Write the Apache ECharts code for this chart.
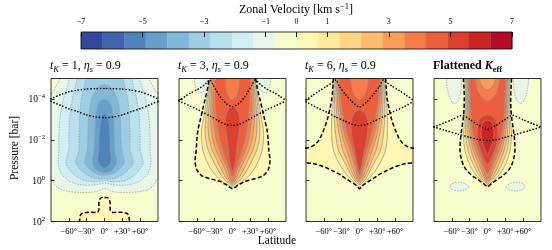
<!DOCTYPE html>
<html><head><meta charset="utf-8">
<script src="https://cdn.jsdelivr.net/npm/echarts@6.0.0/dist/echarts.min.js"></script>
<style>html,body{margin:0;padding:0;background:#fff;}#chart{width:552px;height:250px;}</style>
</head><body><div id="chart"></div>
<script>
// ================= DATA =================
// contour levels of the zonal velocity [km/s]
const levels = [-7,-6.3,-5.6,-4.9,-4.2,-3.5,-2.8,-2.1,-1.4,-0.7,0,0.7,1.4,2.1,2.8,3.5,4.2,4.9,5.6,6.3,7];
const colorbarTicks = [-7,-5,-3,-1,0,1,3,5,7];
const latitudeTicks = [-60,-30,0,30,60];
const log10PressureTicks = [-4,-2,0,2];
const latitudeRange = [-90,90];
const log10PressureRange = [-5,2];
const panelTitles = [
  '{i|t}{si|K}{n| = 1, }{i|η}{si|s}{n| = 0.9}',
  '{i|t}{si|K}{n| = 3, }{i|η}{si|s}{n| = 0.9}',
  '{i|t}{si|K}{n| = 6, }{i|η}{si|s}{n| = 0.9}',
  '{b|Flattened }{bi|K}{sb|eff}'
];

// contour regions: [level, side(+1 above level / -1 below level), [[lat, log10 p], ...]]
// right half, top to bottom; mirrored about the equator
const p1Contours = [
  [0, 1, [[0,0.82],[5,0.83],[8,0.92],[9.5,1.1],[9.5,1.42],[12,1.54],[25,1.55],[36,1.58],[40,1.66],[41.5,1.85],[41.5,2.4]]],
  [-0.7,-1, [[73,-5.3],[75,-5],[82,-4.6],[88,-4.3],[96,-4.2],[96,-0.1],[89,-0.08],[83,0.22],[75,0.42],[60,0.53],[40,0.58],[22,0.57],[10,0.5],[4,0.42],[0,0.38]]],
  [-1.4,-1, [[58,-5.3],[59,-5],[64,-4.5],[69,-4],[73,-3.5],[75,-3],[77,-2],[76.5,-1.5],[78,-0.86],[73.5,-0.37],[62,-0.03],[50,0.14],[35,0.22],[20,0.22],[8,0.16],[0,0.12]]],
  [-2.1,-1, [[45,-5.3],[46,-5],[50,-4.5],[54,-4],[57,-3.5],[59,-3],[60,-2],[60,-1.5],[65,-0.86],[54,-0.37],[40,-0.07],[27,0.04],[13,0.05],[0,0.0]]],
  [-2.8,-1, [[31,-5.3],[31,-5],[35,-4.5],[39,-4],[41,-3.5],[42,-3],[43,-2],[43,-1.5],[48,-0.86],[34,-0.37],[17,-0.12],[6,-0.08],[0,-0.1]]],
  [-3.5,-1, [[0,-4.7],[10,-4.6],[17,-4.3],[22,-4],[25,-3.5],[27,-3],[28,-2],[29,-1.5],[33,-0.86],[18,-0.4],[6,-0.28],[0,-0.26]]],
  [-4.2,-1, [[0,-4.0],[7,-3.9],[12,-3.6],[15,-3],[16.5,-2],[17.4,-1.5],[20,-0.86],[12,-0.5],[0,-0.38]]],
  [-4.9,-1, [[0,-3.3],[5,-3.1],[8,-2.6],[9,-2],[9.5,-1.5],[11,-0.95],[6,-0.7],[0,-0.62]]]
];
const p1Blobs = [];
const p1DottedA = [[-90,-4.0],[-75,-4.2],[-60,-4.35],[-45,-4.43],[-30,-4.48],[-15,-4.5],[0,-4.51],[15,-4.5],[30,-4.48],[45,-4.43],[60,-4.35],[75,-4.2],[90,-4.0]];
const p1DottedB = [[-90,-3.88],[-75,-3.7],[-60,-3.52],[-45,-3.38],[-30,-3.22],[-15,-3.12],[0,-3.08],[15,-3.12],[30,-3.22],[45,-3.38],[60,-3.52],[75,-3.7],[90,-3.88]];

const p2Contours = [
  [0, 1, [[38,-5.3],[39,-5],[42,-4.5],[46,-4],[50,-3.5],[54,-3],[58,-2.5],[60,-2],[61,-1.5],[63,-1],[61,-0.6],[57,-0.4],[52,-0.25],[44,-0.15],[36,-0.08],[28,-0.02],[20,0.05],[14,0.15],[9,0.22],[6,0.3],[2,0.37],[0,0.4]]],
  [0.7, 1, [[37,-5.3],[38,-5],[40.5,-4.5],[43,-4],[46,-3.5],[49,-3],[52,-2.5],[52,-2],[50,-1.5],[44,-1],[35,-0.5],[19,0],[8,0.2],[0,0.32]]],
  [1.4, 1, [[36,-5.3],[37,-5],[39,-4.5],[41,-4],[43,-3.5],[45,-3],[46,-2.5],[45,-2],[41,-1.5],[33,-1],[24,-0.5],[12,0],[5,0.15],[0,0.25]]],
  [2.1, 1, [[35,-5.3],[35.5,-5],[37,-4.5],[38.5,-4],[40,-3.5],[41,-3],[41,-2.5],[39,-2],[34,-1.5],[26,-1],[18,-0.5],[7.6,0],[0,0.18]]],
  [2.8, 1, [[33.5,-5.3],[34,-5],[35,-4.5],[36,-4],[36.5,-3.5],[37,-3],[35.5,-2.5],[33,-2],[28,-1.5],[20,-1],[12,-0.5],[4.8,0],[0,0.1]]],
  [3.5, 1, [[31.5,-5.3],[32,-5],[32.5,-4.5],[33,-4],[33,-3.5],[32,-3],[30,-2.5],[27,-2],[22,-1.5],[15,-1],[7.5,-0.5],[2.5,0],[0,0.03]]],
  [4.2, 1, [[29,-5.3],[29,-5],[29,-4.5],[29,-4],[28,-3.5],[26,-3],[24,-2.5],[21,-2],[16,-1.5],[10,-1],[4,-0.5],[0,-0.2]]],
  [4.2,-1, [[12,-5.3],[12,-5],[11,-4.5],[8,-4.2],[3,-4.0],[0,-3.95]]],
  [4.9, 1, [[0,-3.6],[7,-3.5],[11,-3.2],[12,-2.8],[11,-2.4],[9,-2],[7,-1.5],[5,-1],[2,-0.6],[0,-0.45]]]
];
const p2Blobs = [
  [-0.7,-1, [[44,-5.3],[42.5,-5],[43,-4.7],[46,-4.45],[51,-4.32],[56,-4.3],[60,-4.42],[63,-4.65],[64,-5],[64,-5.3]]]
];
const p2DottedA = [[-90,-3.92],[-80,-4.12],[-70,-4.3],[-58,-4.48],[-48,-4.68],[-42,-4.84],[-38,-4.93],[-33,-4.7],[-26,-4.35],[-20,-4.08],[-10,-3.76],[0,-3.62],[10,-3.76],[20,-4.08],[26,-4.35],[33,-4.7],[38,-4.93],[42,-4.84],[48,-4.68],[58,-4.48],[70,-4.3],[80,-4.12],[90,-3.92]];
const p2DottedB = [[-90,-3.9],[-75,-3.7],[-60,-3.5],[-50,-3.35],[-37,-3.15],[-24,-2.94],[-12,-2.76],[0,-2.7],[12,-2.76],[24,-2.94],[37,-3.15],[50,-3.35],[60,-3.5],[75,-3.7],[90,-3.9]];

const p3Contours = [
  [0, 1, [[44,-5.3],[44,-5],[45,-4.5],[46.5,-4],[50,-3.5],[54,-3],[60,-2.5],[66,-2.1],[72,-1.85],[80,-1.68],[88,-1.6],[97,-1.55],[97,-0.92],[88,-0.86],[78,-0.84],[66,-0.74],[55,-0.62],[44,-0.46],[33,-0.3],[24,-0.12],[16,0.03],[7.5,0.19],[3,0.32],[0,0.4]]],
  [0.7, 1, [[42,-5.3],[42.5,-5],[43,-4.5],[44,-4],[46,-3.5],[47,-3],[47,-2.5],[46.5,-2],[44,-1.5],[37,-1],[27,-0.5],[19,-0.2],[12,0],[5,0.2],[0,0.32]]],
  [1.4, 1, [[40.5,-5.3],[41,-5],[41.5,-4.5],[42,-4],[42.5,-3.5],[42.5,-3],[41,-2.5],[39,-2],[35.6,-1.5],[27,-1],[18,-0.5],[13,-0.2],[8,0],[3,0.15],[0,0.22]]],
  [2.1, 1, [[39,-5.3],[39.5,-5],[39.5,-4.5],[39.5,-4],[39,-3.5],[38,-3],[35.5,-2.5],[32,-2],[28.3,-1.5],[21,-1],[14,-0.5],[9.3,-0.2],[5,0],[0,0.12]]],
  [2.8, 1, [[37.5,-5.3],[38,-5],[37.5,-4.5],[37,-4],[36,-3.5],[34,-3],[31,-2.5],[27,-2],[21.6,-1.5],[16,-1],[10,-0.5],[6.5,-0.2],[3,0],[0,0.05]]],
  [3.5, 1, [[36,-5.3],[36,-5],[35.5,-4.5],[34.5,-4],[32.5,-3.5],[30,-3],[27,-2.5],[22,-2],[16,-1.5],[11,-1],[6,-0.5],[3.6,-0.2],[0,-0.05]]],
  [4.2, 1, [[34,-5.3],[34,-5],[33,-4.5],[31.5,-4],[29,-3.5],[26,-3],[22,-2.5],[17,-2],[11.5,-1.5],[7,-1],[3,-0.5],[0,-0.3]]],
  [4.2,-1, [[15,-5.3],[15,-5],[13,-4.5],[9,-4.2],[3,-4.0],[0,-3.95]]],
  [4.9, 1, [[0,-3.45],[8,-3.35],[13,-3],[14,-2.5],[12,-2],[8,-1.5],[5,-1],[2,-0.6],[0,-0.45]]]
];
const p3Blobs = [];
const p3DottedA = [[-90,-3.95],[-80,-4.15],[-67,-4.41],[-55,-4.62],[-45,-4.82],[-40,-4.93],[-34,-4.62],[-24,-4.24],[-12,-3.85],[0,-3.6],[12,-3.85],[24,-4.24],[34,-4.62],[40,-4.93],[45,-4.82],[55,-4.62],[67,-4.41],[80,-4.15],[90,-3.95]];
const p3DottedB = [[-90,-3.86],[-75,-3.62],[-55,-3.35],[-40,-3.12],[-25,-2.92],[-12,-2.76],[0,-2.7],[12,-2.76],[25,-2.92],[40,-3.12],[55,-3.35],[75,-3.62],[90,-3.86]];

const p4Contours = [
  [0, 1, [[40.5,-5.3],[40.5,-5],[39.5,-4.5],[39,-4],[39.5,-3.5],[41,-3],[43.5,-2.5],[45.5,-2],[46.3,-1.5],[45,-1.2],[43.5,-1],[40,-0.72],[36,-0.54],[30,-0.35],[24,-0.2],[18,-0.1],[12.6,0.02],[7,0.14],[3,0.24],[0,0.31]]],
  [0.7, 1, [[38.5,-5.3],[38.5,-5],[37.5,-4.5],[37,-4],[37.5,-3.5],[38.5,-3],[40,-2.5],[40,-2],[38,-1.5],[33,-1],[25,-0.5],[17,-0.2],[10,0],[3,0.2],[0,0.26]]],
  [1.4, 1, [[37,-5.3],[37,-5],[36,-4.5],[35.5,-4],[36,-3.5],[36.5,-3],[37,-2.5],[36,-2],[33,-1.5],[27,-1],[19,-0.5],[12.5,-0.2],[6.5,0],[2,0.12],[0,0.18]]],
  [2.1, 1, [[35.5,-5.3],[35.5,-5],[34.5,-4.5],[34,-4],[34,-3.5],[34.5,-3],[34,-2.5],[32,-2],[28,-1.5],[22,-1],[14.5,-0.5],[9,-0.2],[4,0],[0,0.1]]],
  [2.8, 1, [[34,-5.3],[34,-5],[33,-4.5],[32.5,-4],[32.5,-3.5],[32.5,-3],[31,-2.5],[28,-2],[24,-1.5],[17,-1],[10,-0.5],[6,-0.2],[2,0],[0,0.03]]],
  [3.5, 1, [[32,-5.3],[32,-5],[31.5,-4.5],[31,-4],[30.5,-3.5],[30,-3],[28,-2.5],[25,-2],[20,-1.5],[13,-1],[7,-0.5],[3.5,-0.2],[0,-0.05]]],
  [4.2, 1, [[30,-5.3],[30,-5],[29.5,-4.5],[29,-4],[28.5,-3.5],[27,-3],[25,-2.5],[21,-2],[16,-1.5],[9,-1],[3.5,-0.5],[0,-0.35]]],
  [4.2,-1, [[20,-5.3],[20,-5],[18,-4.5],[13,-4.2],[7,-4.0],[0,-3.87]]],
  [3.5,-1, [[13,-5.3],[13,-5],[12,-4.8],[8,-4.6],[3,-4.48],[0,-4.45]]],
  [4.9, 1, [[0,-3.22],[8,-3.15],[14,-2.95],[17,-2.6],[17,-2],[12,-1.5],[5,-1],[0,-0.8]]],
  [5.6, 1, [[0,-2.95],[6,-2.88],[10,-2.6],[10.5,-2.2],[8,-1.8],[4,-1.5],[0,-1.25]]]
];
const p4Blobs = [
  [-0.7,-1, [[45,-5.3],[44,-5],[44,-4.6],[46,-4.2],[50,-3.92],[55,-3.78],[60,-3.86],[65,-4.2],[68,-4.6],[69,-5],[69,-5.3]]],
  [-0.7,-1, [[31,0.3],[36,0.17],[45,0.08],[55,0.09],[61,0.18],[63,0.3],[60,0.42],[50,0.5],[40,0.47],[34,0.39]]]
];
const p4DottedA = [[-90,-2.63],[-75,-2.8],[-60,-2.98],[-42,-3.2],[-30,-3.0],[-15,-2.72],[0,-2.5],[15,-2.72],[30,-3.0],[42,-3.2],[60,-2.98],[75,-2.8],[90,-2.63]];
const p4DottedB = [[-90,-2.63],[-70,-2.45],[-50,-2.28],[-30,-2.12],[-15,-2.01],[0,-1.96],[15,-2.01],[30,-2.12],[50,-2.28],[70,-2.45],[90,-2.63]];

// ================= STYLE / LAYOUT =================
const SERIF = "'Liberation Serif','DejaVu Serif',serif";
const ANCHORS = ['#313695','#4575b4','#74add1','#abd9e9','#e0f3f8','#ffffbf','#fee090','#fdae61','#f46d43','#d73027','#a50026'];
function hexRgb(h){return [1,3,5].map(i=>parseInt(h.substr(i,2),16));}
function cmap(t){const s=Math.max(0,Math.min(10,t*10));const i=Math.min(9,Math.floor(s));const f=s-i;const a=hexRgb(ANCHORS[i]),b=hexRgb(ANCHORS[i+1]);
  return 'rgb('+a.map((v,k)=>Math.round(v+(b[k]-v)*f)).join(',')+')';}
const nBands = levels.length-1;
const bandColors = []; for(let i=0;i<nBands;i++) bandColors.push(cmap((i+0.5)/nBands));
function levelIndex(lv){return levels.findIndex(v=>Math.abs(v-lv)<1e-6);}

const GRID_LEFTS=[51,179,306,434], GRID_TOP=78.5, GRID_W=107, GRID_H=143;
const panels=[
  {contours:p1Contours, blobs:p1Blobs, dA:p1DottedA, dB:p1DottedB},
  {contours:p2Contours, blobs:p2Blobs, dA:p2DottedA, dB:p2DottedB},
  {contours:p3Contours, blobs:p3Blobs, dA:p3DottedA, dB:p3DottedB},
  {contours:p4Contours, blobs:p4Blobs, dA:p4DottedA, dB:p4DottedB}
];

function buildPolys(p){
  const polys=[];
  p.contours.forEach(([lv,dir,pts])=>{
    const left=pts.filter(q=>q[0]>0).map(q=>[-q[0],q[1]]).reverse();
    polys.push({lv,dir,pts:pts.concat(left)});
  });
  p.blobs.forEach(([lv,dir,pts])=>{
    polys.push({lv,dir,pts});
    polys.push({lv,dir,pts:pts.map(q=>[-q[0],q[1]])});
  });
  return polys;
}

const grids=[], xAxes=[], yAxes=[], series=[];
const fmtLat=v=> v<0?'−'+(-v)+'°':(v>0?'+'+v+'°':'0°');
const supMap={'-4':'−4','-2':'−2','0':'0','2':'2'};

panels.forEach((p,gi)=>{
  grids.push({left:GRID_LEFTS[gi],top:GRID_TOP,width:GRID_W,height:GRID_H,show:true,borderWidth:0,backgroundColor:bandColors[9],containLabel:false,outerBoundsMode:'none'});
  xAxes.push({gridIndex:gi,type:'value',position:'bottom',min:latitudeRange[0],max:latitudeRange[1],z:10,
    axisLine:{show:false,onZero:false},splitLine:{show:false},
    axisTick:{show:true,inside:true,length:3.5,customValues:latitudeTicks,lineStyle:{color:'#000',width:0.8}},
    axisLabel:{show:true,customValues:latitudeTicks,formatter:fmtLat,fontFamily:SERIF,fontSize:8.5,color:'#000',margin:5.5}});
  yAxes.push({gridIndex:gi,type:'value',position:'left',inverse:true,min:log10PressureRange[0],max:log10PressureRange[1],z:10,
    axisLine:{show:false,onZero:false},splitLine:{show:false},
    axisTick:{show:true,inside:true,length:3.5,customValues:log10PressureTicks,lineStyle:{color:'#000',width:0.8}},
    axisLabel:{show:gi===0,customValues:log10PressureTicks,margin:6,
      formatter:v=>'{b|10}{s|'+supMap[String(v)]+'}',
      rich:{b:{fontFamily:SERIF,fontSize:9.5,lineHeight:12,color:'#000',verticalAlign:'bottom'},s:{fontFamily:SERIF,fontSize:6.5,lineHeight:7,color:'#000',verticalAlign:'top'}}}});
  const polys=buildPolys(p);
  const items=[];
  polys.forEach(pl=>{const idx=levelIndex(pl.lv);const band=pl.dir>0?idx:idx-1;items.push({pl,pass:0,fill:bandColors[band]});});
  polys.forEach(pl=>{if(pl.lv!==0)items.push({pl,pass:1});});
  polys.forEach(pl=>{if(pl.lv===0)items.push({pl,pass:2});});
  series.push({type:'custom',xAxisIndex:gi,yAxisIndex:gi,clip:true,lineStyle:{width:0.001},z:3,silent:true,
    data:items.map((_,i)=>[0,0]),
    renderItem:(params,api)=>{
      const it=items[params.dataIndex];
      const pts=it.pl.pts.map(q=>api.coord(q));
      if(it.pass===0) return {type:'polygon',shape:{points:pts,smooth:0.3},style:{fill:it.fill,stroke:null,lineWidth:0}};
      if(it.pass===1) return {type:'polygon',shape:{points:pts,smooth:0.3},style:{fill:'none',stroke:it.pl.lv<0?'#999':'#8e8e8e',lineWidth:0.7,lineDash:it.pl.lv<0?[1.6,1.2]:null}};
      return {type:'polygon',shape:{points:pts,smooth:0.3},style:{fill:'none',stroke:'#000',lineWidth:1.5,lineDash:[4.2,2.2]}};
    }});
  [p.dA,p.dB].forEach(d=>series.push({type:'line',xAxisIndex:gi,yAxisIndex:gi,data:d,showSymbol:false,smooth:0.25,clip:true,z:6,silent:true,
    lineStyle:{color:'#000',width:1.6,type:[0.1,3.1],cap:'round'}}));
  series.push({type:'custom',xAxisIndex:gi,yAxisIndex:gi,clip:false,z:8,silent:true,data:[[0,0]],
    renderItem:(params,api)=>{const a=api.coord([latitudeRange[0],log10PressureRange[0]]),b=api.coord([latitudeRange[1],log10PressureRange[1]]);
      return {type:'rect',shape:{x:Math.min(a[0],b[0]),y:Math.min(a[1],b[1]),width:Math.abs(b[0]-a[0]),height:Math.abs(b[1]-a[1])},style:{fill:'none',stroke:'#000',lineWidth:0.8}};}});
});

// colorbar
const cbIndex=panels.length;
grids.push({left:81,top:32,width:431,height:17,show:false,containLabel:false,outerBoundsMode:'none'});
xAxes.push({gridIndex:cbIndex,type:'value',position:'top',min:levels[0],max:levels[levels.length-1],z:10,
  axisLine:{show:false,onZero:false},splitLine:{show:false},
  axisTick:{show:true,inside:true,length:5,customValues:colorbarTicks,lineStyle:{color:'#000',width:0.9}},
  axisLabel:{show:true,customValues:colorbarTicks,formatter:v=>v<0?'−'+(-v):String(v),fontFamily:SERIF,fontSize:8,color:'#000',margin:6}});
yAxes.push({gridIndex:cbIndex,type:'value',min:0,max:1,show:false});
const cbBands=levels.slice(0,-1).map((lo,i)=>[lo,levels[i+1]]);
series.push({type:'custom',xAxisIndex:cbIndex,yAxisIndex:cbIndex,z:3,silent:true,data:cbBands,
  renderItem:(params,api)=>{const a=api.coord([api.value(0),1]),b=api.coord([api.value(1),0]);
    return {type:'rect',shape:{x:a[0],y:a[1],width:b[0]-a[0]+0.3,height:b[1]-a[1]},style:{fill:bandColors[params.dataIndex]}};}});
series.push({type:'custom',xAxisIndex:cbIndex,yAxisIndex:cbIndex,z:8,silent:true,data:[[0,0]],
  renderItem:(params,api)=>{const a=api.coord([levels[0],1]),b=api.coord([levels[levels.length-1],0]);
    return {type:'rect',shape:{x:a[0],y:a[1],width:b[0]-a[0],height:b[1]-a[1]},style:{fill:'none',stroke:'#000',lineWidth:0.8}};}});

const titleRich={
  n:{fontFamily:SERIF,fontSize:12,lineHeight:16,fill:'#000'},
  i:{fontFamily:SERIF,fontSize:12,lineHeight:16,fontStyle:'italic',fill:'#000'},
  si:{fontFamily:SERIF,fontSize:8.5,lineHeight:9,fontStyle:'italic',fill:'#000',verticalAlign:'bottom'},
  b:{fontFamily:SERIF,fontSize:12,lineHeight:16,fontWeight:'bold',fill:'#000'},
  bi:{fontFamily:SERIF,fontSize:12,lineHeight:16,fontWeight:'bold',fontStyle:'italic',fill:'#000'},
  sb:{fontFamily:SERIF,fontSize:8.5,lineHeight:9,fontWeight:'bold',fill:'#000',verticalAlign:'bottom'},
  sup:{fontFamily:SERIF,fontSize:8.5,lineHeight:9,fill:'#000',verticalAlign:'top'}
};
const graphics=[];
panelTitles.forEach((t,i)=>graphics.push({type:'text',x:GRID_LEFTS[i]-1,y:66,silent:true,
  style:{text:t,rich:titleRich,fill:'#000',align:'left',textAlign:'left',verticalAlign:'middle',textVerticalAlign:'middle'}}));
graphics.push({type:'text',x:296,y:10,silent:true,style:{text:'{n|Zonal Velocity [km s}{sup|−1}{n|]}',rich:titleRich,fill:'#000',align:'center',textAlign:'center',verticalAlign:'middle',textVerticalAlign:'middle'}});
graphics.push({type:'text',x:277,y:240.5,silent:true,style:{text:'Latitude',font:'11.5px '+SERIF,fontFamily:SERIF,fontSize:11.5,fill:'#000',align:'center',textAlign:'center',verticalAlign:'middle',textVerticalAlign:'middle'}});
graphics.push({type:'text',x:15,y:148,rotation:Math.PI/2,silent:true,style:{text:'Pressure [bar]',font:'11.5px '+SERIF,fontFamily:SERIF,fontSize:11.5,fill:'#000',align:'center',textAlign:'center',verticalAlign:'middle',textVerticalAlign:'middle'}});

const chart=echarts.init(document.getElementById('chart'),null,{renderer:'canvas'});
chart.setOption({animation:false,backgroundColor:'#fff',grid:grids,xAxis:xAxes,yAxis:yAxes,series,graphic:graphics});
</script></body></html>
